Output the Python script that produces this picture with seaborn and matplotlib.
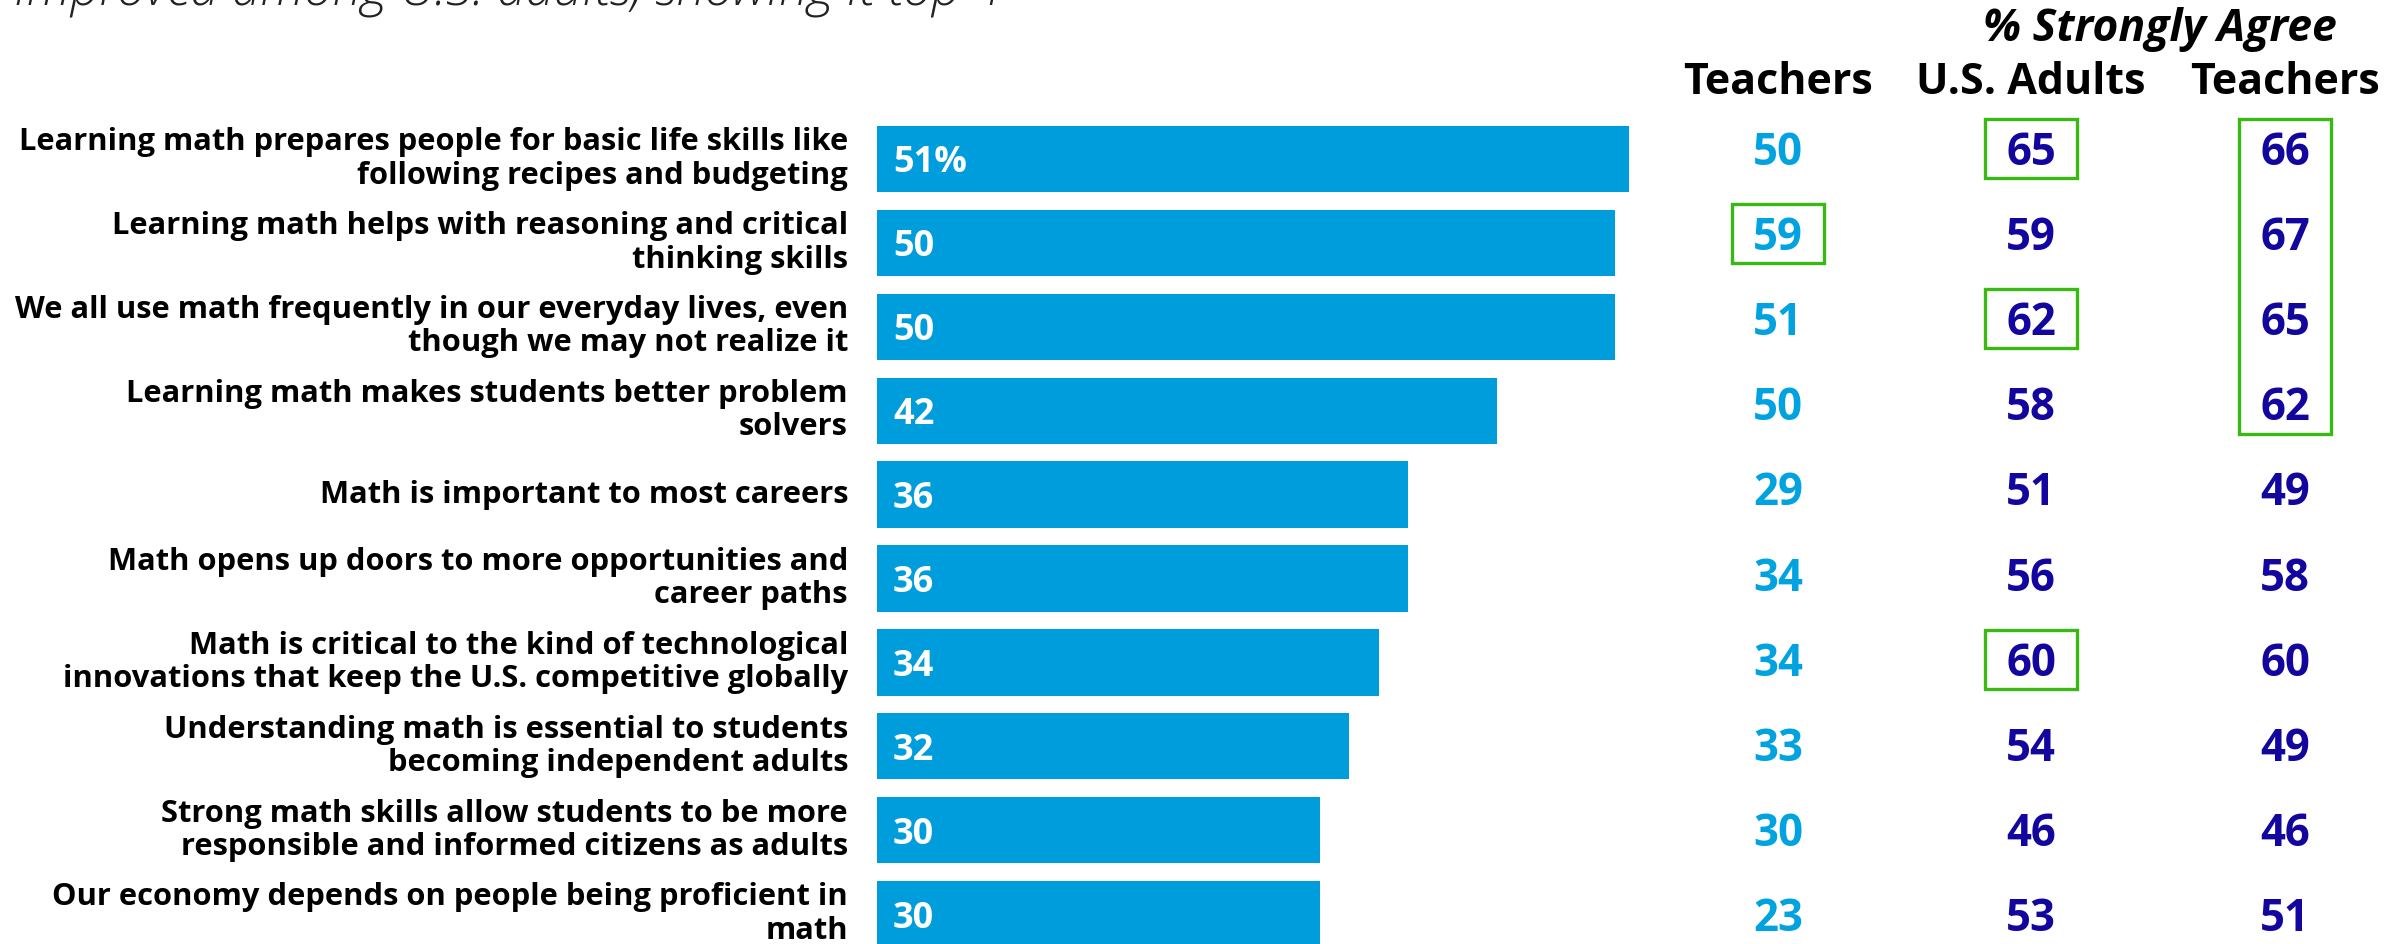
import matplotlib
matplotlib.use("Agg")
import matplotlib.pyplot as plt
import seaborn as sns
import pandas as pd
from matplotlib.patches import Rectangle

# ---- data -------------------------------------------------------------
statements = [
    "Learning math prepares people for basic life skills like\nfollowing recipes and budgeting",
    "Learning math helps with reasoning and critical\nthinking skills",
    "We all use math frequently in our everyday lives, even\nthough we may not realize it",
    "Learning math makes students better problem\nsolvers",
    "Math is important to most careers",
    "Math opens up doors to more opportunities and\ncareer paths",
    "Math is critical to the kind of technological\ninnovations that keep the U.S. competitive globally",
    "Understanding math is essential to students\nbecoming independent adults",
    "Strong math skills allow students to be more\nresponsible and informed citizens as adults",
    "Our economy depends on people being proficient in\nmath",
]
bar_values = [51, 50, 50, 42, 36, 36, 34, 32, 30, 30]
teachers_col = [50, 59, 51, 50, 29, 34, 34, 33, 30, 23]
adults_strong = [65, 59, 62, 58, 51, 56, 60, 54, 46, 53]
teachers_strong = [66, 67, 65, 62, 49, 58, 60, 49, 46, 51]
column_headers = ["Teachers", "U.S. Adults", "Teachers"]
group_header = "% Strongly Agree"
top_note = "Improved among U.S. adults, showing it top 4"
# highlighted cells: (column index, first row, last row)
highlights = [(0, 1, 1), (1, 0, 0), (1, 2, 2), (1, 6, 6), (2, 0, 3)]

# ---- style ------------------------------------------------------------
BAR_BLUE = "#009DDC"
LIGHT_BLUE = "#00A3E0"
NAVY = "#12069E"
GREEN = "#3AB814"
sns.set_theme(style="white")
plt.rcParams["font.family"] = ["Open Sans", "DejaVu Sans"]

W, H = 2407, 944
fig = plt.figure(figsize=(W / 100, H / 100), dpi=100)
ax = fig.add_axes([0, 0, 1, 1])

# pixel geometry of the layout
X0 = 877.0          # pixel where value 0 sits
PX = 14.75          # pixels per percentage point
ROW0 = 159.0        # pixel centre of first bar (from top)
STEP = 83.9         # pixels between bars


def xd(px):
    return (px - X0) / PX


def yd(px):
    return (px - ROW0) / STEP


df = pd.DataFrame({"statement": statements, "value": bar_values})
sns.barplot(data=df, x="value", y="statement", orient="h", color=BAR_BLUE,
            saturation=1, width=0.79, linewidth=0, ax=ax)

ax.set_xlim(xd(0), xd(W))
ax.set_ylim(yd(H), yd(0))
ax.axis("off")

# statement labels
for i, s in enumerate(statements):
    ax.text(xd(848), i, s, ha="right", va="center", ma="right",
            fontsize=22.2, fontweight="bold", color="black", linespacing=1.14)

# values inside bars
for i, v in enumerate(bar_values):
    lab = f"{v}%" if i == 0 else f"{v}"
    ax.text(xd(893), i, lab, ha="left", va="center_baseline",
            fontsize=26, fontweight="bold", color="white")

# right-hand table
col_x = [1778, 2031, 2285]
col_vals = [teachers_col, adults_strong, teachers_strong]
col_colors = [LIGHT_BLUE, NAVY, NAVY]
NUM_FS = 31.5
cap_half = NUM_FS * 100 / 72 * 0.714 / 2


def num_row_px(i):
    return 149 + 85.2 * i


for c, (cx, vals, colr) in enumerate(zip(col_x, col_vals, col_colors)):
    for i, v in enumerate(vals):
        ax.text(xd(cx), yd(num_row_px(i) + cap_half), f"{v}", ha="center",
                va="baseline", fontsize=NUM_FS, fontweight="bold", color=colr)

for cx, h in zip(col_x, column_headers):
    ax.text(xd(cx), yd(82), h, ha="center", va="center", fontsize=31,
            fontweight="bold", color="black")
ax.text(xd(2160), yd(29), group_header, ha="center", va="center", fontsize=32,
        fontweight="bold", fontstyle="italic", color="black")

# green highlight boxes
BOX_W = 92
for c, r0, r1 in highlights:
    top = num_row_px(r0) - 30
    bot = num_row_px(r1) + 29
    ax.add_patch(Rectangle((xd(col_x[c] - BOX_W / 2), yd(top)), BOX_W / PX,
                           (bot - top) / STEP, fill=False, edgecolor=GREEN,
                           linewidth=2.4, zorder=5))

# note line running off the top edge
fig.text(14 / W, 1 - 5 / H, top_note, ha="left", va="baseline", fontsize=37,
         fontstyle="italic", fontweight="light", color="#222222")

fig.savefig("out.png", dpi=100)
